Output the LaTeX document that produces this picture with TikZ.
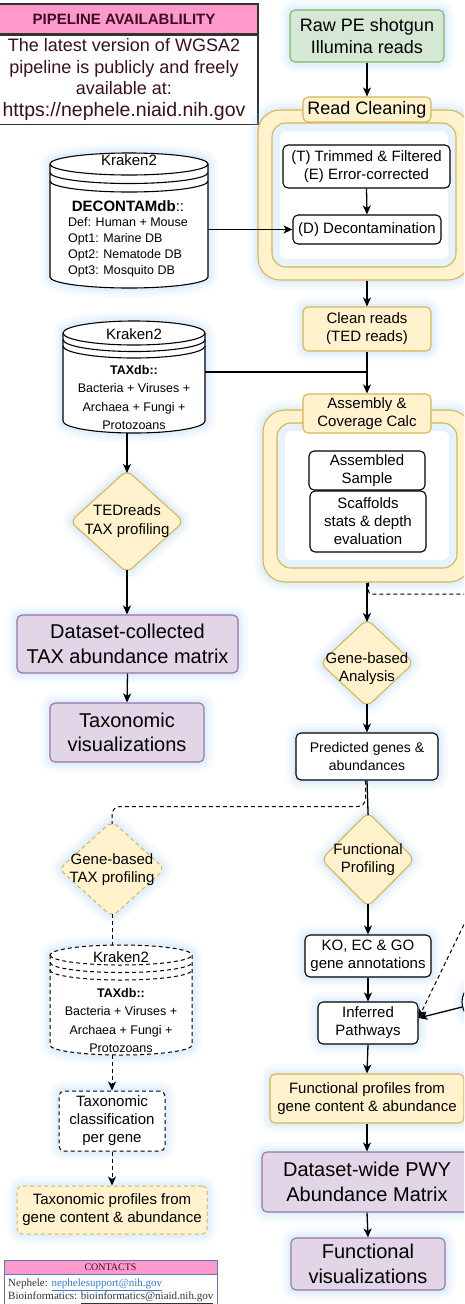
\documentclass[tikz,border=0pt]{standalone}
\usepackage{fontspec}
\setmainfont{Liberation Sans}
\newfontfamily\contactfont{Liberation Serif}
\usetikzlibrary{shapes,arrows,arrows.meta,shapes.geometric}
\usetikzlibrary{positioning}

\definecolor{stagefill}{HTML}{FFF2CC}
\definecolor{stageline}{HTML}{D6B656}
\definecolor{rawfill}{HTML}{D5E8D4}
\definecolor{rawline}{HTML}{82B366}
\definecolor{matfill}{HTML}{E1D5E7}
\definecolor{matline}{HTML}{9673A6}
\definecolor{headpink}{HTML}{FF99CC}
\definecolor{haze}{HTML}{8EC5F2}
\definecolor{infotext}{HTML}{3A0F22}
\definecolor{contactline}{HTML}{5A78B8}
\definecolor{mailblue}{HTML}{2F7DDB}

\tikzset{
  haloed/.style={preaction={draw=haze, solid, line width=20pt, draw opacity=.07},
                 preaction={draw=haze, solid, line width=13pt, draw opacity=.09},
                 preaction={draw=haze, solid, line width=7pt, draw opacity=.13}},
  boxcore/.style={draw, line width=1.1pt, rounded corners=5pt, align=center, inner sep=0pt},
  innerbox/.style={boxcore, fill=white},
  procbox/.style={boxcore, fill=white, haloed},
  stagetag/.style={boxcore, fill=stagefill, draw=stageline},
  stagebox/.style={stagetag, haloed},
  rawbox/.style={boxcore, fill=rawfill, draw=rawline, haloed},
  matbox/.style={boxcore, fill=matfill, draw=matline, haloed},
  decision/.style={diamond, draw=stageline, fill=stagefill, line width=1.1pt,
    rounded corners=7pt, inner sep=0pt, haloed},
  frameout/.style={draw=stageline, fill=stagefill, line width=1.1pt, rounded corners=22pt, haloed},
  framein/.style={draw=stageline, fill=white, line width=1.1pt, rounded corners=14pt,
    path picture={\draw[haze, line width=16pt, opacity=.22]
      (path picture bounding box.south west) rectangle (path picture bounding box.north east);}},
  flow/.style={-{Stealth[length=9pt,width=8pt,inset=2.5pt]}, line width=1.3pt},
  link/.style={line width=1.3pt},
  optional/.style={dash pattern=on 4pt off 3pt, line width=1pt},
  txtS/.style={align=center, font=\fontsize{12.5}{18.3}\selectfont},
  txtM/.style={align=center, font=\fontsize{15}{18}\selectfont},
  txtR/.style={align=center, font=\fontsize{18}{21.5}\selectfont},
  txtL/.style={align=center, font=\fontsize{20}{24.5}\selectfont},
}

% drum shaped database: style, left, right, top, bottom, y radius, ring gap
\newcommand{\dbdrum}[7]{%
  \pgfmathsetmacro{\drumrx}{(#3-#2)/2}%
  \filldraw[fill=white, line width=1.1pt, haloed, #1] (#2,#4+#6) -- (#2,#5-#6)
    arc[start angle=180, end angle=0, x radius=\drumrx, y radius=#6]
    -- (#3,#4+#6)
    arc[start angle=0, end angle=-180, x radius=\drumrx, y radius=#6] -- cycle;
  \foreach \ring in {0,1,2}
    \draw[line width=1.1pt, #1] (#2,#4+#6+\ring*#7)
      arc[start angle=180, end angle=0, x radius=\drumrx, y radius=#6];
}

\begin{document}
\begin{tikzpicture}[x=1pt, y=-1pt]
  \useasboundingbox (0,0) rectangle (464,1304);
  \clip (0,0) rectangle (464,1304);

  % availability note
  \node[draw=black!80, fill=headpink, line width=1.2pt, minimum width=268pt, minimum height=30pt,
    inner sep=0pt, text=infotext, font=\bfseries\fontsize{15}{18}\selectfont] (infohead) at (124,19) {PIPELINE AVAILABLILITY};
  \node[draw=black!80, fill=white, line width=1.2pt, minimum width=268pt, minimum height=89pt,
    inner sep=0pt, anchor=north, text=infotext, txtR] (infobody) at (infohead.south)
    {The latest version of WGSA2\\pipeline is publicly and freely\\available at:\\{\fontsize{19.5}{21.5}\selectfont https://nephele.niaid.nih.gov}};

  % read cleaning stage
  \node[frameout, minimum width=212pt, minimum height=170pt] (readframe) at (364,195) {};
  \node[framein, minimum width=184pt, minimum height=144pt] at (readframe) {};
  \node[stagetag, txtR, minimum width=128pt, minimum height=25pt] (readtag) at (367,109.5) {Read Cleaning};
  \node[innerbox, txtM, minimum width=167pt, minimum height=43pt] (trim) at (366.5,166.5) {(T) Trimmed \& Filtered\\(E) Error-corrected};
  \node[innerbox, txtM, minimum width=148pt, minimum height=29pt] (decon) at (367,229.5) {(D) Decontamination};

  % assembly stage
  \node[frameout, minimum width=208pt, minimum height=172pt] (asmframe) at (367,496) {};
  \node[framein, minimum width=180pt, minimum height=145pt] at (367,495.5) {};
  \node[stagetag, txtM, minimum width=128pt, minimum height=39pt] (asmtag) at (367,413.5) {Assembly \&\\Coverage Calc};
  \node[innerbox, txtM, minimum width=116pt, minimum height=39pt] (asmsample) at (367,470.5) {Assembled\\Sample};
  \node[innerbox, txtM, minimum width=116pt, minimum height=61pt] (scaffolds) at (368,521.5) {Scaffolds\\stats \& depth\\evaluation};

  % main column
  \node[rawbox, txtR, minimum width=154pt, minimum height=52pt] (raw) at (367,36) {Raw PE shotgun\\Illumina reads};
  \node[stagebox, txtM, minimum width=128pt, minimum height=44pt] (clean) at (367,329) {Clean reads\\(TED reads)};
  \node[decision, minimum width=94pt, minimum height=88pt] (genediam) at (367,663) {};
  \node[txtM] at (367,669) {Gene-based\\Analysis};
  \node[procbox, font=\fontsize{14}{17.5}\selectfont, minimum width=142pt, minimum height=47pt] (predicted) at (367,756.5) {Predicted genes \&\\abundances};
  \node[decision, minimum width=94pt, minimum height=95pt] (funcdiam) at (368,859.5) {};
  \node[txtM] at (368,859.5) {Functional\\Profiling};
  \node[procbox, txtM, minimum width=126pt, minimum height=42pt] (koec) at (368,956) {KO, EC \& GO\\gene annotations};
  \node[procbox, txtM, minimum width=100pt, minimum height=42pt] (inferred) at (368,1023) {Inferred\\Pathways};
  \node[stagebox, txtM, minimum width=194pt, minimum height=49pt] (funcprof) at (367,1098.5) {Functional profiles from\\gene content \& abundance};
  \node[matbox, txtL, minimum width=210pt, minimum height=60pt] (pwymatrix) at (367,1182) {Dataset-wide PWY\\Abundance Matrix};
  \node[matbox, txtL, minimum width=154pt, minimum height=52pt] (funcvis) at (368,1264) {Functional\\visualizations};
  \node[circle, draw, fill=white, line width=1.1pt, minimum size=40pt, haloed] (extdb) at (482,1002) {};

  % read-based taxonomy
  \dbdrum{}{50}{208}{153}{288}{11}{8.5}
  \node[minimum width=158pt, minimum height=135pt, inner sep=0pt] (decondb) at (129,220.5) {};
  \node[txtM] at (129,160) {Kraken2};
  \node[txtM] at (128,206) {\textbf{DECONTAMdb}::};
  \node[align=left, font=\fontsize{12.5}{16}\selectfont] at (128,247) {Def: Human + Mouse\\Opt1: Marine DB\\Opt2: Nematode DB\\Opt3: Mosquito DB};

  \dbdrum{}{63}{205}{321}{433}{12}{6.5}
  \node[minimum width=142pt, minimum height=112pt, inner sep=0pt] (taxdb) at (134,377) {};
  \node[txtM] at (134,334) {Kraken2};
  \node[txtS] at (134,397.5) {\textbf{TAXdb::}\\Bacteria + Viruses +\\Archaea + Fungi +\\Protozoans};

  \node[decision, minimum width=114pt, minimum height=103pt] (tedtax) at (127,521.5) {};
  \node[txtM, font=\fontsize{15}{19}\selectfont] at (127,521.5) {TEDreads\\TAX profiling};
  \node[matbox, txtL, minimum width=221pt, minimum height=58pt] (taxmatrix) at (127.5,644) {Dataset-collected\\TAX abundance matrix};
  \node[matbox, txtL, minimum width=154pt, minimum height=59pt] (taxvis) at (127,732.5) {Taxonomic\\visualizations};

  % gene-based taxonomy (optional)
  \node[decision, optional, minimum width=106pt, minimum height=96pt] (genetax) at (112,869) {};
  \node[txtM] at (112,870) {Gene-based\\TAX profiling};
  \dbdrum{optional}{50}{192}{945}{1055}{10}{7.5}
  \node[minimum width=142pt, minimum height=110pt, inner sep=0pt] (taxdbgene) at (121,1000) {};
  \node[txtM] at (121,957) {Kraken2};
  \node[txtS] at (121,1020.5) {\textbf{TAXdb::}\\Bacteria + Viruses +\\Archaea + Fungi +\\Protozoans};
  \node[procbox, optional, txtM, minimum width=106pt, minimum height=60pt] (taxclass) at (112,1121) {Taxonomic\\classification\\per gene};
  \node[stagebox, optional, txtM, minimum width=190pt, minimum height=48pt] (taxprof) at (112,1210) {Taxonomic profiles from\\gene content \& abundance};

  % contacts
  \node[draw=contactline, fill=headpink, line width=.8pt, minimum width=213pt, minimum height=14pt,
    inner sep=0pt, text=infotext, font=\contactfont\fontsize{10}{12}\selectfont] (contacthead) at (110.5,1267) {CONTACTS};
  \node[draw=contactline, fill=white, line width=.8pt, minimum width=213pt, minimum height=40pt,
    anchor=north] (contactbody) at (contacthead.south) {};
  \node[anchor=west, align=left, inner sep=0pt, text=black!80, font=\contactfont\fontsize{11}{13}\selectfont] at (8,1291.5)
    {Nephele: \textcolor{mailblue}{\underline{nephelesupport@nih.gov}}\\Bioinformatics: \underline{bioinformatics@niaid.nih.gov}};

  % connectors
  \draw[flow] (raw) -- (readtag);
  \draw[flow] (trim.south) -- (decon.north);
  \draw[flow] (decon.west -| decondb.east) -- (decon.west);
  \draw[flow] (clean.north |- readframe.south) -- (clean.north);
  \coordinate (merge) at (367,372);
  \draw[link] (taxdb.east |- merge) -- (merge);
  \draw[flow] (clean) -- (asmtag);
  \draw[flow, shorten >=-3.5pt] (genediam.north |- asmframe.south) -- (genediam.north);
  \draw[flow, shorten <=-3.5pt] (genediam.south) -- (predicted.north);
  \draw[link, shorten >=-3.5pt] (predicted.south) -- (funcdiam.north);
  \draw[flow, shorten <=-3.5pt] (funcdiam.south) -- (koec.north);
  \draw[flow] (koec) -- (inferred);
  \draw[flow] (inferred.south) -- (funcprof.north);
  \draw[flow] (funcprof.south) -- (pwymatrix.north);
  \draw[flow] (pwymatrix.south) -- (funcvis.north);
  \draw[flow, shorten >=-3.5pt] (tedtax.north |- taxdb.south) -- (tedtax.north);
  \draw[flow, shorten <=-3.5pt] (tedtax.south) -- (tedtax.south |- taxmatrix.north);
  \draw[flow] (taxmatrix.south) -- (taxvis.north);

  % optional branches
  \coordinate (offright) at (470,594);
  \draw[optional, rounded corners=3pt] ([xshift=1.5pt]asmframe.south) |- (offright);
  \draw[optional, rounded corners=8pt, shorten >=-3.5pt] ([xshift=-1.5pt]predicted.south) -- ++(0,26) -| (genetax.north);
  \draw[optional, shorten <=-3.5pt] (genetax.south) -- (genetax.south |- taxdbgene.north);
  \draw[flow, optional] (taxclass.north |- taxdbgene.south) -- (taxclass.north);
  \draw[flow, optional] (taxclass) -- (taxprof);
  \coordinate (offabove) at (470,912);
  \draw[flow, optional] (offabove) -- ([yshift=5pt]inferred.east);
  \draw[flow] (extdb) -- ([yshift=5pt]inferred.east);
\end{tikzpicture}
\end{document}
